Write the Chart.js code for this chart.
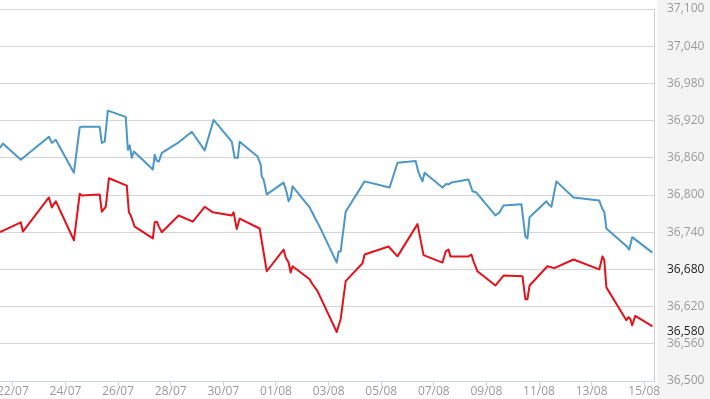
<!DOCTYPE html>
<html>
<head>
<meta charset="utf-8">
<script src="https://cdn.jsdelivr.net/npm/chart.js@4/dist/chart.umd.min.js"></script>
<style>
  html, body { margin: 0; padding: 0; background: #fff; }
  #wrap { position: relative; width: 710px; height: 399px; overflow: hidden; }
  #chart { position: absolute; left: -20px; top: 0; }
</style>
</head>
<body>
<div id="wrap"><canvas id="chart" width="730" height="399"></canvas></div>
<script>
// x is days since 22/07
const dateLabels = ['22/07', '24/07', '26/07', '28/07', '30/07', '01/08', '03/08', '05/08', '07/08', '09/08', '11/08', '13/08', '15/08'];
const xTicks = [0, 2, 4, 6, 8, 10, 12, 14, 16, 18, 20, 22, 24];
const yTicks = [36500, 36560, 36580, 36620, 36680, 36740, 36800, 36860, 36920, 36980, 37040, 37100];
const darkTicks = [36580, 36680];

const blueDays = [-0.49, -0.38, 0.30, 1.37, 1.48, 1.63, 2.32, 2.54, 2.62, 3.30, 3.38, 3.49, 3.61, 4.29, 4.37, 4.44, 4.52, 4.60,
  5.32, 5.39, 5.47, 5.55, 5.66, 6.27, 6.80, 7.29, 7.63, 8.32, 8.43, 8.55, 8.62, 9.30, 9.42, 9.46, 9.53, 9.65,
  10.29, 10.41, 10.48, 10.56, 10.63, 11.28, 11.47, 11.66, 12.31, 12.38, 12.46, 12.65, 13.37, 14.32, 14.62,
  15.31, 15.42, 15.57, 15.65, 16.33, 16.48, 16.56, 16.67, 17.32, 17.47, 17.62, 18.34, 18.50, 18.65, 19.33,
  19.48, 19.56, 19.64, 20.28, 20.36, 20.47, 20.66, 21.31, 22.29, 22.41, 22.48, 22.56, 23.36, 23.43, 23.54, 24.31];
const blueValues = [36876, 36883, 36857, 36894, 36884, 36889, 36836, 36909, 36910, 36910, 36884, 36886, 36936, 36926, 36873, 36880, 36860, 36870,
  36841, 36865, 36855, 36854, 36868, 36884, 36902, 36872, 36921, 36886, 36860, 36860, 36886, 36862, 36849, 36830, 36825, 36801,
  36820, 36804, 36790, 36796, 36814, 36780, 36764, 36749, 36691, 36709, 36709, 36773, 36822, 36812, 36852,
  36855, 36836, 36822, 36836, 36812, 36818, 36817, 36820, 36825, 36806, 36804, 36767, 36772, 36783, 36785,
  36733, 36730, 36764, 36790, 36785, 36781, 36822, 36796, 36791, 36777, 36773, 36746, 36716, 36712, 36732, 36707];

const redDays = [-0.49, 0.30, 0.38, 1.37, 1.48, 1.63, 2.32, 2.54, 2.62, 3.30, 3.38, 3.53, 3.65, 4.33, 4.41, 4.48, 4.63,
  5.32, 5.39, 5.47, 5.55, 5.66, 6.30, 6.84, 7.29, 7.60, 8.32, 8.39, 8.51, 8.62, 9.38, 9.65, 10.29, 10.37, 10.48,
  10.56, 10.63, 11.28, 11.39, 11.58, 12.31, 12.46, 12.65, 13.29, 13.37, 14.28, 14.62, 15.38, 15.61, 16.33, 16.45,
  16.56, 16.63, 17.32, 17.43, 17.51, 17.66, 18.34, 18.65, 19.37, 19.48, 19.56, 19.64, 20.32, 20.58, 21.31,
  22.29, 22.41, 22.48, 22.56, 23.32, 23.40, 23.47, 23.54, 23.66, 24.31];
const redValues = [36740, 36756, 36741, 36796, 36780, 36790, 36727, 36802, 36799, 36801, 36773, 36781, 36827, 36815, 36772, 36767, 36749,
  36730, 36756, 36757, 36749, 36740, 36767, 36757, 36781, 36772, 36767, 36772, 36745, 36762, 36746, 36677, 36712, 36699, 36691,
  36675, 36685, 36664, 36656, 36645, 36579, 36600, 36661, 36690, 36704, 36717, 36701, 36753, 36703, 36691, 36709,
  36712, 36701, 36701, 36704, 36693, 36677, 36654, 36670, 36669, 36632, 36632, 36654, 36685, 36682, 36696,
  36680, 36701, 36695, 36651, 36598, 36603, 36600, 36590, 36605, 36588];

const toPoints = (xs, ys) => xs.map((x, i) => ({ x, y: ys[i] }));

// light grey panel behind the right-hand value axis
const axisPanel = {
  id: 'axisPanel',
  beforeDraw(chart) {
    const { ctx, chartArea, width, height } = chart;
    ctx.save();
    ctx.fillStyle = '#f4f4f4';
    ctx.fillRect(chartArea.right + 3, 0, width - chartArea.right - 3, height);
    ctx.restore();
  },
};

const font = { family: '"Open Sans", sans-serif', size: 12 };

new Chart(document.getElementById('chart'), {
  type: 'line',
  data: {
    datasets: [
      { data: toPoints(blueDays, blueValues), borderColor: '#4a97c8', borderWidth: 2 },
      { data: toPoints(redDays, redValues), borderColor: '#e3121b', borderWidth: 2 },
    ],
  },
  options: {
    responsive: false,
    animation: false,
    devicePixelRatio: 1,
    layout: { padding: { left: 20, top: 9, right: 0, bottom: 0 } },
    elements: { point: { radius: 0 }, line: { tension: 0, borderJoinStyle: 'round' } },
    plugins: { legend: { display: false }, tooltip: { enabled: false } },
    scales: {
      x: {
        type: 'linear',
        min: -0.49,
        max: 24.37,
        afterBuildTicks: (s) => { s.ticks = xTicks.map((v) => ({ value: v })); },
        afterFit: (s) => { s.height = 18; s.paddingLeft = 0; s.paddingRight = 0; },
        grid: { drawOnChartArea: false, drawTicks: true, tickLength: 5, color: '#c9d5e1' },
        border: { display: true, color: '#c9d5e1' },
        ticks: {
          font, color: '#9a9a9a', padding: -2, maxRotation: 0,
          callback: (v) => dateLabels[xTicks.indexOf(v)],
        },
      },
      y: {
        position: 'right',
        min: 36500,
        max: 37100,
        afterBuildTicks: (s) => { s.ticks = yTicks.map((v) => ({ value: v })); },
        afterFit: (s) => { s.width = 56; s.paddingTop = 0; s.paddingBottom = 0; },
        grid: {
          drawTicks: false,
          color: (c) => (c.tick && c.tick.value === 36580 ? 'rgba(0,0,0,0)' : '#d4d4d4'),
        },
        border: { display: true, color: '#cfcfcf' },
        ticks: {
          font, padding: 13,
          color: (c) => (darkTicks.includes(c.tick.value) ? '#1e1e1e' : '#9a9a9a'),
          callback: (v) => v.toLocaleString('en-US'),
        },
      },
    },
  },
  plugins: [axisPanel],
});
</script>
</body>
</html>
